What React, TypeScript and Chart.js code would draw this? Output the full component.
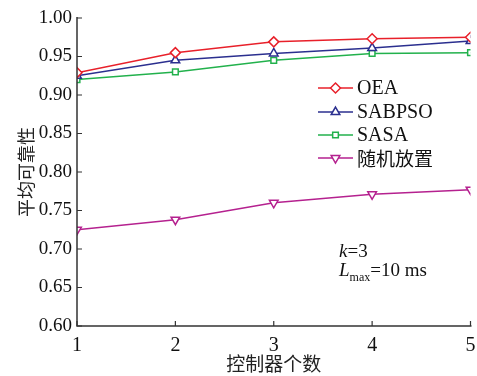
import React, { useEffect, useRef } from "react";
import { Chart, registerables } from "chart.js";
import { drawPoint } from "chart.js/helpers";

Chart.register(...registerables);

const categories = [1, 2, 3, 4, 5];
const oea = [0.929, 0.955, 0.969, 0.973, 0.975];
const sabpso = [0.925, 0.945, 0.954, 0.961, 0.970];
const sasa = [0.920, 0.930, 0.945, 0.954, 0.955];
const randomPlace = [0.725, 0.738, 0.760, 0.771, 0.777];
const yTicks = [0.6, 0.65, 0.7, 0.75, 0.8, 0.85, 0.9, 0.95, 1.0];
const seriesNames = ["OEA", "SABPSO", "SASA", "随机放置"];
const seriesColors = ["#e8202a", "#2b2f8f", "#22b14c", "#b5218f"];
const seriesStyles = ["rectRot", "triangle", "rect", "triangle"];
const seriesRot = [0, 0, 0, 180];
const seriesRadius = [5, 5, 4, 5];

const SERIF = "'Liberation Serif', 'Times New Roman', serif";
const CJK = "'Noto Sans CJK SC', sans-serif";

const overlay = {
  id: "overlay",
  afterDraw(chart: any) {
    const ctx = chart.ctx;
    const { left, bottom } = chart.chartArea;
    const xs = chart.scales.x;
    const ys = chart.scales.y;
    ctx.save();
    // axes
    ctx.strokeStyle = "#333";
    ctx.lineWidth = 1.5;
    ctx.beginPath();
    ctx.moveTo(left, ys.getPixelForValue(1.0) - 1);
    ctx.lineTo(left, bottom);
    ctx.lineTo(xs.getPixelForValue(5) + 1, bottom);
    ctx.stroke();
    ctx.lineWidth = 1.2;
    ctx.beginPath();
    yTicks.forEach((v) => {
      const y = ys.getPixelForValue(v);
      ctx.moveTo(left, y);
      ctx.lineTo(left + 5, y);
    });
    categories.forEach((c) => {
      const x = xs.getPixelForValue(c);
      ctx.moveTo(x, bottom);
      ctx.lineTo(x, bottom - 5);
    });
    ctx.stroke();

    // legend
    const lx0 = 318, lx1 = 353, tx = 357;
    const rows = [88, 112, 135, 158];
    seriesNames.forEach((name, i) => {
      const y = rows[i];
      ctx.strokeStyle = seriesColors[i];
      ctx.lineWidth = 1.5;
      ctx.beginPath();
      ctx.moveTo(lx0, y);
      ctx.lineTo(lx1, y);
      ctx.stroke();
      ctx.fillStyle = "#ffffff";
      drawPoint(ctx, {
        pointStyle: seriesStyles[i] as any,
        radius: seriesRadius[i],
        rotation: seriesRot[i],
        borderWidth: 1.5,
      } as any, (lx0 + lx1) / 2, y);
      ctx.fillStyle = "#111";
      ctx.textBaseline = "middle";
      ctx.textAlign = "left";
      ctx.font = i === 3 ? `19px ${CJK}` : `20px ${SERIF}`;
      ctx.fillText(name, tx, y + 1);
    });

    // annotation
    ctx.fillStyle = "#111";
    ctx.textBaseline = "alphabetic";
    ctx.font = `italic 19px ${SERIF}`;
    ctx.fillText("k", 339, 257);
    let w = ctx.measureText("k").width;
    ctx.font = `19px ${SERIF}`;
    ctx.fillText("=3", 339 + w, 257);
    ctx.font = `italic 19px ${SERIF}`;
    ctx.fillText("L", 339, 276);
    w = ctx.measureText("L").width;
    ctx.font = `12px ${SERIF}`;
    ctx.fillText("max", 339 + w, 281);
    const w2 = ctx.measureText("max").width;
    ctx.font = `19px ${SERIF}`;
    ctx.fillText("=10 ms", 339 + w + w2, 276);
    ctx.restore();
  },
};

export default function App() {
  const ref = useRef<HTMLCanvasElement>(null);
  useEffect(() => {
    const datasets = [oea, sabpso, sasa, randomPlace].map((d, i) => ({
      label: seriesNames[i],
      data: d,
      borderColor: seriesColors[i],
      backgroundColor: "#ffffff",
      pointBorderColor: seriesColors[i],
      pointBackgroundColor: "#ffffff",
      pointStyle: seriesStyles[i],
      pointRotation: seriesRot[i],
      pointRadius: seriesRadius[i],
      pointBorderWidth: 1.5,
      borderWidth: 1.5,
      tension: 0,
    }));
    const chart = new Chart(ref.current!, {
      type: "line",
      data: { labels: categories.map(String), datasets },
      options: {
        animation: false,
        responsive: false,
        layout: { padding: { top: 18, right: 6, left: 15, bottom: 0 } },
        plugins: { legend: { display: false }, tooltip: { enabled: false } },
        scales: {
          x: {
            type: "linear",
            min: 1,
            max: 5,
            border: { display: false },
            grid: { display: false, drawTicks: false },
            ticks: {
              stepSize: 1,
              color: "#111",
              padding: 8,
              font: { family: SERIF, size: 20 },
            },
            title: {
              display: true,
              text: "控制器个数",
              color: "#222",
              padding: { top: 0, bottom: 1 },
              font: { family: CJK, size: 19 },
            },
            afterFit: (s: any) => {
              s.height = 50;
              s.paddingRight = 0;
              s.paddingLeft = 0;
            },
          },
          y: {
            min: 0.6,
            max: 1.0,
            border: { display: false },
            grid: { display: false, drawTicks: false },
            afterBuildTicks: (s: any) => {
              s.ticks = yTicks.map((v) => ({ value: v }));
            },
            ticks: {
              color: "#111",
              padding: 5,
              font: { family: SERIF, size: 19 },
              callback: (v: any) => Number(v).toFixed(2),
            },
            title: {
              display: true,
              text: "平均可靠性",
              color: "#222",
              padding: { top: 0, bottom: 0 },
              font: { family: CJK, size: 18 },
            },
            afterFit: (s: any) => {
              s.width = 62;
              s.paddingTop = 0;
              s.paddingBottom = 0;
            },
          },
        },
      },
      plugins: [overlay],
    } as any);
    return () => chart.destroy();
  }, []);
  return (
    <div style={{ position: "absolute", left: 0, top: 0, width: 477, height: 376, background: "#fff" }}>
      <canvas ref={ref} width={477} height={376} style={{ width: 477, height: 376 }} />
    </div>
  );
}
